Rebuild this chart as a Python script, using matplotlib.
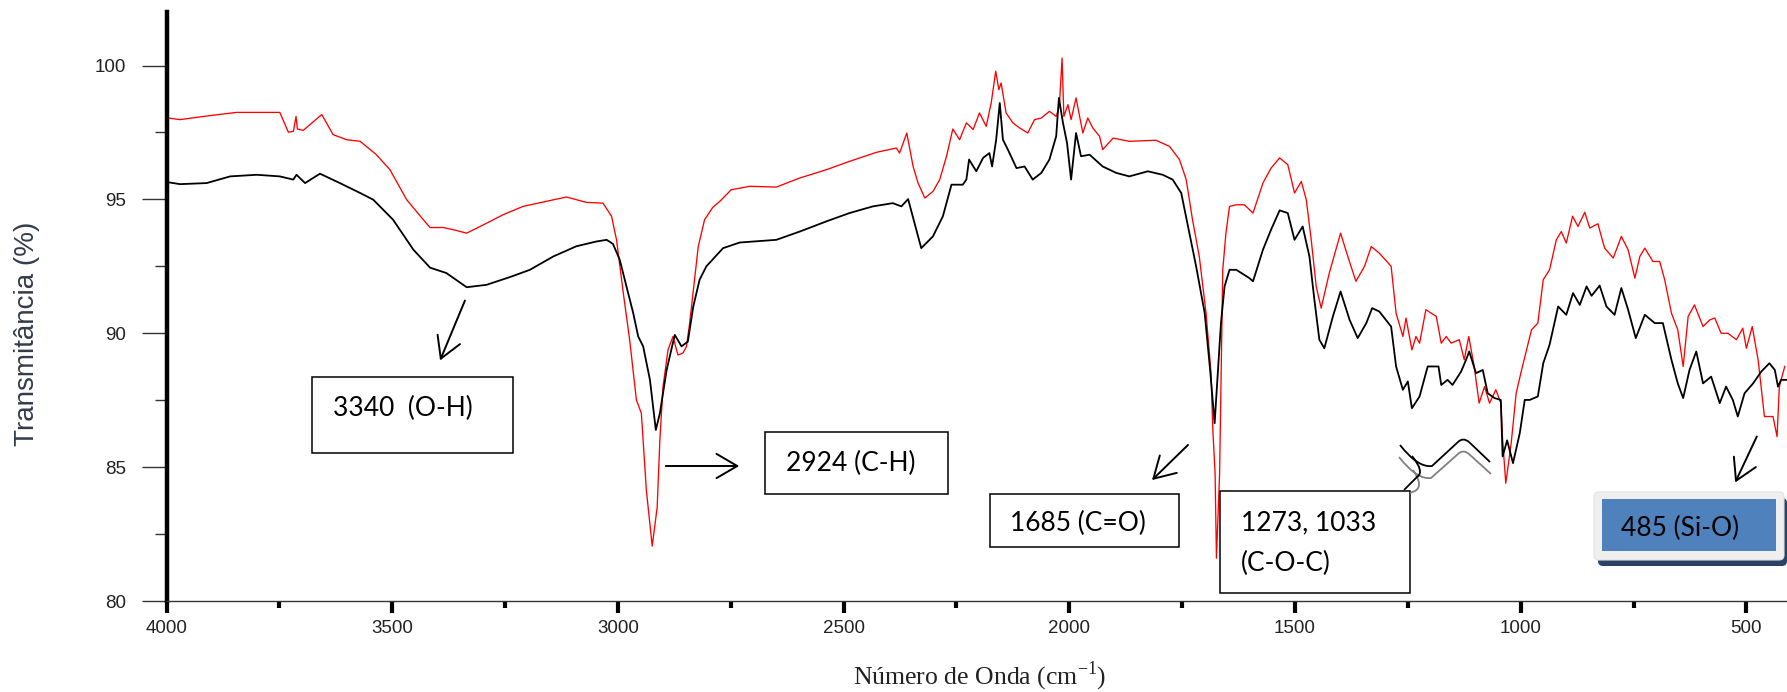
import matplotlib
matplotlib.use('Agg')
import matplotlib.pyplot as plt
from matplotlib.patches import Rectangle, FancyBboxPatch, FancyArrowPatch, PathPatch
from matplotlib.path import Path
from matplotlib.transforms import IdentityTransform
from matplotlib.ticker import MultipleLocator

W, H = 1787, 692

# FTIR spectra (numero de onda, transmitancia)
wn_red = [3996, 3970, 3904, 3845, 3749, 3730, 3719, 3713, 3710, 3697, 3656, 3631, 3601, 3571,
          3535, 3505, 3468, 3431, 3416, 3387, 3360, 3335, 3298, 3254, 3210, 3158, 3114, 3070,
          3033, 3014, 3003, 2988, 2974, 2959, 2948, 2937, 2924, 2913, 2907, 2900, 2889, 2878,
          2867, 2856, 2848, 2841, 2822, 2808, 2790, 2774, 2749, 2708, 2649, 2597, 2538, 2487,
          2427, 2383, 2376, 2360, 2346, 2335, 2320, 2302, 2287, 2272, 2258, 2243, 2228, 2213,
          2199, 2184, 2173, 2163, 2156, 2151, 2140, 2125, 2110, 2092, 2077, 2062, 2044, 2029,
          2022, 2016, 2012, 2003, 1996, 1985, 1970, 1959, 1948, 1933, 1926, 1903, 1867, 1808,
          1778, 1756, 1741, 1727, 1712, 1697, 1686, 1682, 1677, 1674, 1667, 1660, 1653, 1645,
          1630, 1612, 1601, 1593, 1571, 1553, 1534, 1516, 1501, 1486, 1475, 1464, 1453, 1442,
          1424, 1399, 1383, 1365, 1346, 1331, 1313, 1287, 1276, 1261, 1254, 1241, 1232, 1224,
          1210, 1187, 1176, 1165, 1154, 1136, 1125, 1115, 1103, 1092, 1080, 1069, 1055, 1044,
          1040, 1033, 1021, 1010, 998, 987, 976, 962, 950, 936, 921, 910, 899, 885, 873, 858,
          847, 829, 814, 795, 777, 762, 747, 736, 725, 707, 692, 681, 666, 652, 640, 629, 615,
          596, 581, 570, 556, 541, 522, 508, 500, 487, 474, 460, 441, 432, 427, 415]
t_red = [98.04, 97.98, 98.13, 98.25, 98.25, 97.51, 97.54, 98.10, 97.63, 97.58, 98.17, 97.42, 97.23, 97.17,
         96.67, 96.11, 94.99, 94.24, 93.95, 93.95, 93.85, 93.74, 94.05, 94.43, 94.74, 94.93, 95.09, 94.89,
         94.86, 94.37, 93.49, 91.50, 89.76, 87.51, 87.01, 84.15, 82.05, 83.50, 86.02, 88.01, 89.38, 89.88,
         89.19, 89.26, 89.51, 90.38, 93.24, 94.24, 94.70, 94.93, 95.36, 95.49, 95.46, 95.80, 96.11, 96.42,
         96.76, 96.92, 96.73, 97.48, 96.23, 95.61, 95.05, 95.30, 95.74, 96.61, 97.63, 97.23, 97.86, 97.61,
         98.23, 97.73, 98.60, 99.79, 99.10, 99.35, 98.23, 97.86, 97.67, 97.48, 97.98, 98.04, 98.29, 98.10,
         98.48, 100.28, 98.10, 98.54, 97.98, 98.79, 97.48, 98.04, 97.67, 97.36, 96.86, 97.29, 97.17, 97.21,
         96.98, 96.49, 95.74, 94.24, 92.87, 90.75, 88.51, 86.39, 84.77, 81.60, 84.77, 92.37, 93.74, 94.74,
         94.80, 94.80, 94.62, 94.49, 95.61, 96.17, 96.55, 96.30, 95.24, 95.67, 94.99, 93.49, 91.75, 90.94,
         92.25, 93.74, 92.87, 91.94, 92.50, 93.24, 92.99, 92.50, 90.75, 89.88, 90.57, 89.38, 89.88, 89.63,
         90.88, 90.63, 89.63, 89.88, 89.63, 89.76, 89.01, 89.88, 88.76, 87.39, 88.01, 87.39, 87.89, 87.39,
         86.02, 84.40, 85.90, 87.76, 88.63, 89.38, 90.13, 90.38, 92.00, 92.37, 93.49, 93.80, 93.37, 94.37, 93.99, 94.52,
         93.93, 94.09, 93.18, 92.81, 93.62, 93.12, 92.06, 92.87, 93.18, 92.68, 92.68, 92.00, 90.75, 90.13, 88.76, 90.63, 91.06,
         90.25, 90.50, 90.57, 90.00, 90.00, 89.76, 90.19, 89.44, 90.25, 89.01, 86.89, 86.89, 86.14, 88.01, 88.76]

wn_black = [3996, 3970, 3911, 3859, 3800, 3749, 3719, 3712, 3693, 3660, 3616, 3571, 3542, 3498,
            3453, 3416, 3380, 3335, 3291, 3239, 3195, 3143, 3092, 3047, 3025, 3011, 2996, 2981,
            2966, 2955, 2944, 2929, 2916, 2907, 2892, 2874, 2859, 2845, 2833, 2819, 2804, 2767,
            2730, 2649, 2597, 2538, 2487, 2435, 2391, 2372, 2357, 2328, 2302, 2280, 2261, 2236,
            2228, 2222, 2206, 2191, 2177, 2171, 2162, 2154, 2147, 2136, 2117, 2099, 2081, 2062,
            2044, 2029, 2023, 2014, 2005, 1996, 1985, 1974, 1955, 1926, 1896, 1867, 1826, 1793,
            1771, 1752, 1737, 1719, 1700, 1688, 1678, 1671, 1664, 1656, 1645, 1630, 1601, 1593,
            1571, 1553, 1534, 1516, 1501, 1483, 1468, 1457, 1446, 1435, 1416, 1399, 1379, 1361,
            1342, 1329, 1313, 1287, 1276, 1261, 1250, 1241, 1224, 1206, 1182, 1176, 1162, 1151,
            1132, 1121, 1114, 1099, 1084, 1073, 1058, 1044, 1040, 1030, 1017, 1002, 991, 980,
            962, 950, 936, 917, 899, 884, 869, 854, 843, 825, 810, 792, 777, 762, 745, 725, 703,
            685, 666, 652, 640, 626, 611, 596, 578, 559, 545, 530, 519, 504, 485, 467, 449, 437,
            430, 423, 412]
t_black = [95.64, 95.57, 95.61, 95.86, 95.92, 95.86, 95.74, 95.92, 95.61, 95.96, 95.61, 95.24, 94.99, 94.24,
           93.12, 92.45, 92.25, 91.72, 91.81, 92.10, 92.37, 92.87, 93.25, 93.43, 93.49, 93.34, 92.75, 91.75,
           90.75, 89.88, 89.51, 88.26, 86.39, 87.01, 88.63, 89.94, 89.51, 89.69, 91.00, 92.00, 92.50, 93.18,
           93.39, 93.49, 93.80, 94.18, 94.49, 94.74, 94.86, 94.74, 95.01, 93.18, 93.62, 94.37, 95.55, 95.55,
           95.74, 96.49, 96.05, 96.55, 96.73, 96.23, 97.23, 98.60, 97.23, 96.86, 96.17, 96.23, 95.74, 95.99,
           96.49, 97.36, 98.79, 97.86, 97.11, 95.74, 97.48, 96.61, 96.67, 96.23, 95.99, 95.86, 96.05, 95.92,
           95.74, 95.24, 93.99, 92.50, 90.75, 88.63, 86.64, 88.51, 90.38, 91.75, 92.37, 92.37, 92.06, 91.94,
           93.12, 93.87, 94.59, 94.49, 93.49, 93.99, 92.87, 91.25, 89.76, 89.44, 90.63, 91.56, 90.50, 89.82,
           90.38, 90.94, 90.81, 90.25, 88.76, 87.89, 88.20, 87.20, 87.64, 88.76, 88.76, 88.07, 88.26, 88.07,
           88.57, 89.01, 89.32, 88.51, 88.63, 87.76, 87.58, 87.51, 85.40, 86.00, 85.15, 86.27, 87.51, 87.51,
           87.64, 88.88, 89.57, 91.00, 90.69, 91.50, 91.06, 91.75, 91.40, 91.78, 91.00, 90.69, 91.69, 90.88, 89.82, 90.69, 90.38,
           90.38, 89.01, 88.13, 87.58, 88.63, 89.32, 88.13, 88.38, 87.39, 88.01, 87.51, 86.89, 87.76, 88.13, 88.57, 88.88, 88.63,
           88.01, 88.26, 88.26]

y_ticks = [80, 85, 90, 95, 100]
x_ticks = [4000, 3500, 3000, 2500, 2000, 1500, 1000, 500]
notes = ['3340  (O-H)', '2924 (C-H)', '1685 (C=O)', '1273, 1033\n(C-O-C)', '485 (Si-O)']

plt.rcParams['font.family'] = ['Liberation Sans', 'DejaVu Sans']
plt.rcParams['mathtext.fontset'] = 'custom'
plt.rcParams['mathtext.rm'] = 'Liberation Serif'

fig = plt.figure(figsize=(W / 100, H / 100), dpi=100)
ax = fig.add_axes([166.5 / W, 1 - 601 / H, 1 - 166.5 / W, (601 - 12) / H])

ax.plot(wn_red, t_red, color='red', lw=0.95)
ax.plot(wn_black, t_black, color='black', lw=1.3)

ax.set_xlim(4000, 410)
ax.set_ylim(80, 102)
for s in ['top', 'right']:
    ax.spines[s].set_visible(False)
ax.spines['left'].set_linewidth(3.2)
ax.spines['bottom'].set_linewidth(1.0)
ax.spines['bottom'].set_color('#333333')

ax.set_yticks(y_ticks)
ax.yaxis.set_minor_locator(MultipleLocator(2.5))
ax.set_xticks(x_ticks)
ax.xaxis.set_minor_locator(MultipleLocator(250))
ax.tick_params(axis='y', which='major', length=18, width=1.0, pad=11, labelsize=13.5,
               color='#333333', labelcolor='#222222')
ax.tick_params(axis='y', which='minor', length=9, width=1.0, color='#333333')
ax.tick_params(axis='x', which='major', length=8.6, width=3, pad=5, labelsize=13.5,
               labelcolor='#222222')
ax.tick_params(axis='x', which='minor', length=5.3, width=3)

ident = IdentityTransform()


def P(x, y):
    # pixel position, measured from the top left of the picture
    return (x, H - y)


fig.text(*P(27, 334), 'Transmitância (%)', rotation=90, ha='center', va='center',
         fontsize=20, color='#333d4a', transform=ident)
fig.text(*P(980, 676), r'Número de Onda (cm$^{\mathrm{-1}}$)', ha='center', va='center',
         fontsize=18.5, family='Liberation Serif', color='#222222', transform=ident)


def note_box(x0, y0, x1, y1, text, tx, ty):
    fig.add_artist(Rectangle(P(x0, y1), x1 - x0, y1 - y0, transform=ident,
                             facecolor='white', edgecolor='black', lw=1.1, zorder=5))
    fig.text(*P(tx, ty), text, ha='left', va='center', fontsize=19, family='Lato',
             linespacing=1.75, transform=ident, zorder=6)


def arrow(x0, y0, x1, y1):
    fig.add_artist(FancyArrowPatch(P(x0, y0), P(x1, y1), transform=ident,
                                   arrowstyle='->,head_length=0.6,head_width=0.35',
                                   mutation_scale=25, lw=1.4, color='black', zorder=6))


note_box(312, 377, 513, 453, notes[0], 333, 408)
note_box(765, 432, 948, 494, notes[1], 786, 463)
note_box(990, 494, 1179, 547, notes[2], 1010, 523)
note_box(1220, 491, 1410, 593, notes[3], 1241, 543)

arrow(466, 298, 439, 363)
arrow(663, 466, 742, 466)
arrow(1190, 443, 1150, 482)
arrow(1758, 434, 1734, 485)

# blue label with shadow
fig.add_artist(FancyBboxPatch(P(1598, 566), 189, 68, transform=ident,
                              boxstyle='round,pad=0,rounding_size=5',
                              facecolor='#2b4266', edgecolor='none', zorder=4))
fig.add_artist(FancyBboxPatch(P(1594, 560), 190, 68, transform=ident,
                              boxstyle='round,pad=0,rounding_size=5',
                              facecolor='#efefef', edgecolor='#e2e2e2', lw=0.8, zorder=5))
fig.add_artist(Rectangle(P(1602, 551), 174, 52, transform=ident,
                         facecolor='#4f81bd', edgecolor='none', zorder=6))
fig.text(*P(1621, 528), notes[4], ha='left', va='center', fontsize=19, family='Lato',
         color='black', transform=ident, zorder=7)

# bracket squiggle between the two boxes
M, C, L = Path.MOVETO, Path.CURVE3, Path.LINETO
squiggles = [
    ([(1399, 457), (1417, 480), (1431, 478), (1458, 454), (1463, 449), (1469, 454), (1491, 474)],
     [M, C, C, L, C, C, L], '#808080'),
    ([(1413, 470), (1424, 486), (1415, 491), (1410, 493)], [M, C, C, L], '#808080'),
    ([(1400, 445), (1418, 468), (1432, 466), (1458, 442), (1463, 437), (1469, 442), (1490, 462)],
     [M, C, C, L, C, C, L], 'black'),
    ([(1412, 456), (1425, 472), (1417, 477), (1404, 490)], [M, C, C, L], 'black'),
]
for pts, codes, col in squiggles:
    path = Path([P(x, y) for x, y in pts], codes)
    fig.add_artist(PathPatch(path, transform=ident, facecolor='none', edgecolor=col,
                             lw=1.3, zorder=6))

fig.savefig('out.png', dpi=100)
